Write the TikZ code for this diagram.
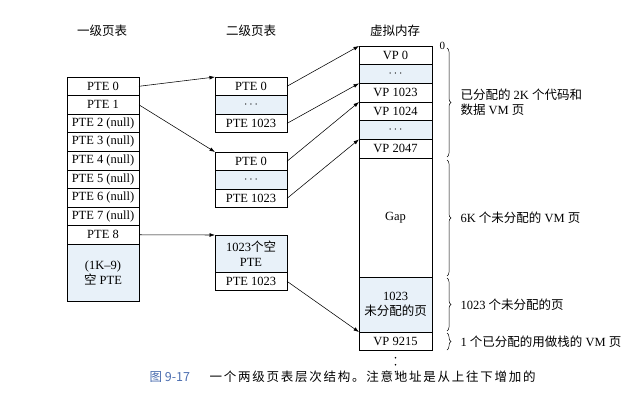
\documentclass[tikz,border=0pt]{standalone}
\usepackage{fontspec}
\setmainfont{Liberation Serif}
\newfontfamily\cjk{Noto Sans CJK SC}
\newfontfamily\cjkcap[LetterSpace=14]{Noto Sans CJK SC}
\usepackage{tikz}
\usetikzlibrary{calc, arrows.meta, positioning, decorations.pathreplacing}
\definecolor{paleblue}{RGB}{232,241,249}
\definecolor{capblue}{RGB}{76,110,176}
\NewDocumentCommand{\zh}{m}{{\cjk #1}}

\begin{document}
\begin{tikzpicture}[x=1pt, y=-1pt,
    every node/.style={font=\fontsize{12.5}{15}\selectfont},
    cell/.style={draw, line width=0.5pt, minimum width=72pt, minimum height=18.56pt,
        inner sep=0pt, outer sep=0pt},
    filled/.style={cell, fill=paleblue},
    vm/.style={minimum width=73pt, minimum height=18.67pt},
    ptr/.style={-{Latex[length=5.5pt, width=3.8pt]}, line width=0.55pt},
    bracket/.style={decorate, decoration={brace, amplitude=4pt}, line width=0.5pt},
    ]
    % \draw[help lines] (0,0) grid[step=20] (636,418);
    \useasboundingbox (0,0) rectangle (636,418);
    \node (T1) at (102,31) {\zh{一级页表}};
    \node (T2) at (251,31) {\zh{二级页表}};
    \node (T3) at (395,31) {\zh{虚拟内存}};

    % level 1
    \node[cell, anchor=north west] (A0) at (67,77) {PTE 0};
    \node[cell, below=0pt of A0] (A1) {PTE 1};
    \foreach \i [remember=\i as \j (initially 1)] in {2,...,7}
        \node[cell, below=0pt of A\j] (A\i) {PTE \i\ (null)};
    \node[cell, below=0pt of A7] (A8) {PTE 8};
    \node[filled, below=0pt of A8, minimum height=57pt, align=center] (A9)
        {(1K--9)\\\zh{空} PTE};

    % level 2
    \node[cell, anchor=north west] (B0) at (215,77) {PTE 0};
    \node[filled, below=0pt of B0] (B1) {$\cdots$};
    \node[cell, below=0pt of B1] (B2) {PTE 1023};
    \node[cell, anchor=north west] (C0) at (215,152) {PTE 0};
    \node[filled, below=0pt of C0] (C1) {$\cdots$};
    \node[cell, below=0pt of C1] (C2) {PTE 1023};
    \node[filled, anchor=north west, minimum height=37pt, align=center] (D0) at (215,235)
        {1023\zh{个空}\\PTE};
    \node[cell, below=0pt of D0] (D1) {PTE 1023};

    % virtual memory
    \node[cell, vm, anchor=north west] (V0) at (359,46) {VP 0};
    \node[filled, vm, below=0pt of V0] (V1) {$\cdots$};
    \node[cell, vm, below=0pt of V1] (V2) {VP 1023};
    \node[cell, vm, below=0pt of V2] (V3) {VP 1024};
    \node[filled, vm, below=0pt of V3] (V4) {$\cdots$};
    \node[cell, vm, below=0pt of V4] (V5) {VP 2047};
    \node[cell, vm, below=0pt of V5, minimum height=119pt] (Vgap) {Gap};
    \node[filled, vm, below=0pt of Vgap, minimum height=55pt, align=center] (Vfree)
        {1023\\\zh{未分配的页}};
    \node[cell, vm, below=0pt of Vfree] (Vstack) {VP 9215};
    \foreach \k in {0,1,2}
        \fill ($(Vstack.south)+(0,{7+7*\k})$) circle (0.9pt);
    \node[anchor=west, font=\fontsize{11}{12}\selectfont] (zero) at (436,46) {0};

    \draw[bracket] (447,48) -- node[right=10pt, align=left] (N1)
        {\zh{已分配的} 2K \zh{个代码和}\\\zh{数据} VM \zh{页}} (447,157);
    \draw[bracket] (447,160) -- node[right=10pt] (N2)
        {6K \zh{个未分配的} VM \zh{页}} (447,276);
    \draw[bracket] (447,278) -- node[right=10pt] (N3)
        {1023 \zh{个未分配的页}} (447,331);
    \draw[bracket] (447,333) -- node[right=10pt] (N4)
        {1 \zh{个已分配的用做栈的} VM \zh{页}} (447,350);

    \draw[ptr] (A0.east) -- (B0.north west);
    \draw[ptr] (A1.east) -- (C0.north west);
    \draw[ptr] (A8.east) -- (D0.north west);
    \draw[ptr] (B0.east) -- (V0.north west);
    \draw[ptr] (B2.east) -- (V2.north west);
    \draw[ptr] (C0.east) -- (V3.north west);
    \draw[ptr] (C2.east) -- (V5.north west);
    \draw[ptr] (D1.east) -- (Vstack.north west);

    \node[anchor=west, text=capblue] (fignum) at (146,377) {\zh{图 9-17}};
    \node[anchor=west] (caption) at (206,377)
        {\cjkcap 一个两级页表层次结构。注意地址是从上往下增加的};
\end{tikzpicture}
\end{document}
